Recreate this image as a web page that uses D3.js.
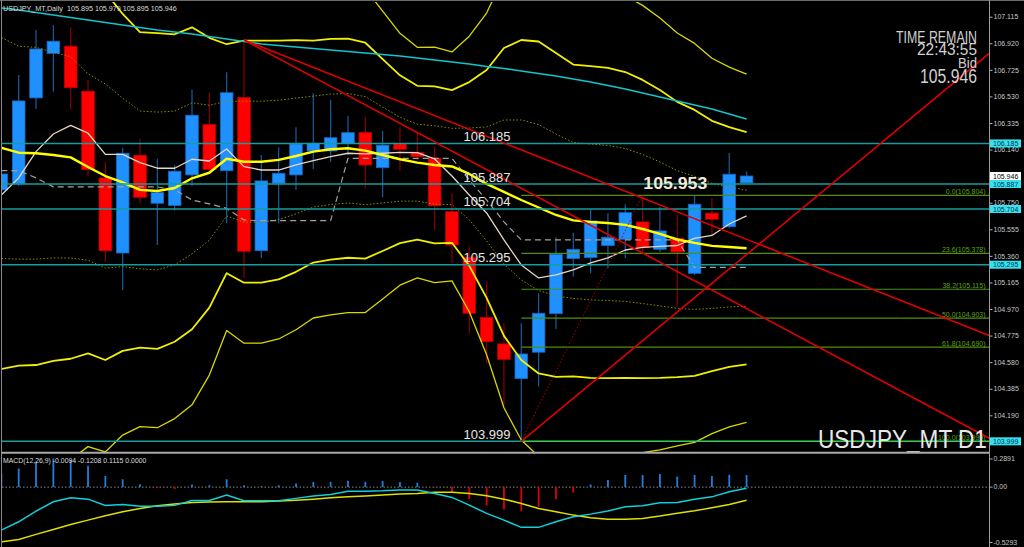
<!DOCTYPE html>
<html><head><meta charset="utf-8">
<script src="https://cdn.jsdelivr.net/npm/d3@7"></script>
<style>body{margin:0;background:#000;overflow:hidden}svg{display:block}</style>
</head><body>
<svg id="c" width="1024" height="547"></svg>
<script>
// ---------- DATA (candle index -1 .. 42, daily) ----------
const candleIdx = d3.range(-1, 43);
const open  = [105.844,105.888,106.519,106.846,106.898,106.568,105.932,105.381,106.098,105.746,105.730,105.954,106.323,105.985,106.521,105.398,105.893,105.954,106.130,106.130,106.186,106.264,106.007,106.181,106.120,106.076,105.684,105.350,104.907,104.714,104.459,104.653,104.936,105.340,105.347,105.435,105.482,105.609,105.408,105.489,105.232,105.673,105.574,105.895];
const high  = [106.005,106.687,107.017,107.054,107.037,106.651,106.051,106.154,106.218,106.073,106.027,106.577,106.557,106.707,106.944,106.100,106.157,106.304,106.553,106.504,106.389,106.381,106.276,106.304,106.264,106.161,105.819,105.428,105.171,104.870,104.866,105.086,105.497,105.530,105.704,105.673,105.739,105.804,105.721,105.660,105.807,105.783,106.115,105.979];
const low   = [105.807,105.873,106.438,106.565,106.438,105.941,105.315,105.110,105.746,105.440,105.693,105.875,105.976,105.599,105.198,105.345,105.599,105.844,105.998,106.051,106.100,105.856,105.790,105.983,106.064,105.550,105.306,104.792,104.572,104.266,103.999,104.400,104.824,105.207,105.232,105.269,105.342,105.389,105.389,104.987,105.220,105.513,105.565,105.895];
const close = [105.961,106.497,106.878,106.935,106.594,105.993,105.398,106.113,105.790,105.824,105.981,106.392,105.993,106.557,105.394,105.910,105.966,106.181,106.186,106.227,106.264,106.027,106.172,106.142,106.088,105.728,105.440,104.939,104.731,104.601,104.640,104.939,105.372,105.408,105.616,105.497,105.677,105.423,105.543,105.389,105.739,105.629,105.959,105.946];

const bbMid = [106.152,106.117,106.113,106.100,106.083,106.012,105.946,105.899,105.844,105.836,105.858,105.929,105.970,106.073,106.051,106.051,106.064,106.093,106.125,106.142,106.150,106.132,106.100,106.069,106.044,106.027,106.016,105.961,105.888,105.829,105.770,105.715,105.660,105.620,105.609,105.601,105.587,105.557,105.521,105.480,105.455,105.433,105.425,105.416];
const bbDev = [0.811,0.781,0.777,0.755,0.739,0.684,0.675,0.618,0.579,0.579,0.564,0.554,0.495,0.420,0.444,0.444,0.438,0.425,0.407,0.405,0.402,0.396,0.352,0.308,0.282,0.288,0.280,0.337,0.418,0.528,0.587,0.609,0.594,0.572,0.572,0.569,0.561,0.547,0.528,0.505,0.488,0.459,0.440,0.426];
const fastMA = [105.807,105.932,106.125,106.254,106.318,106.260,106.105,106.105,106.044,106.003,106.003,106.069,106.056,106.144,106.015,105.990,105.990,106.027,106.058,106.088,106.113,106.108,106.113,106.120,106.117,106.071,105.946,105.807,105.675,105.477,105.293,105.198,105.220,105.257,105.308,105.345,105.403,105.422,105.429,105.436,105.488,105.510,105.594,105.653];
const stepLine = [105.985,105.985,105.932,105.866,105.866,105.866,105.866,105.866,105.866,105.866,105.844,105.770,105.741,105.708,105.623,105.618,105.618,105.618,105.618,105.618,106.076,106.076,106.076,106.076,106.076,106.076,106.076,105.917,105.770,105.609,105.477,105.477,105.477,105.477,105.477,105.477,105.477,105.477,105.477,105.477,105.276,105.276,105.276,105.276];
const longMA = [107.179,107.164,107.146,107.127,107.109,107.091,107.072,107.054,107.036,107.017,107.003,106.988,106.970,106.951,106.933,106.915,106.904,106.893,106.882,106.871,106.860,106.849,106.838,106.827,106.812,106.797,106.783,106.768,106.750,106.735,106.717,106.698,106.680,106.658,106.636,106.610,106.585,106.555,106.526,106.497,106.467,106.438,106.401,106.364];

const macdHist = [0.125,0.171,0.231,0.262,0.247,0.195,0.101,0.073,0.027,-0.005,-0.018,0.025,0.018,0.073,0.018,0.009,0.018,0.034,0.046,0.048,0.058,0.048,0.055,0.046,0.039,-0.003,-0.052,-0.112,-0.167,-0.204,-0.217,-0.180,-0.112,-0.052,0.025,0.064,0.110,0.110,0.119,0.098,0.110,0.101,0.112,0.1115];
const macdLine = [-0.393,-0.317,-0.219,-0.134,-0.098,-0.110,-0.167,-0.158,-0.174,-0.174,-0.167,-0.122,-0.122,-0.073,-0.125,-0.125,-0.125,-0.103,-0.082,-0.067,-0.037,-0.037,-0.034,-0.027,-0.027,-0.058,-0.094,-0.165,-0.240,-0.302,-0.368,-0.368,-0.317,-0.271,-0.247,-0.219,-0.180,-0.171,-0.144,-0.140,-0.110,-0.089,-0.043,-0.0094];
const macdSignal = [-0.500,-0.478,-0.432,-0.387,-0.341,-0.302,-0.262,-0.226,-0.195,-0.171,-0.155,-0.140,-0.137,-0.134,-0.134,-0.134,-0.128,-0.119,-0.110,-0.098,-0.089,-0.082,-0.073,-0.064,-0.058,-0.048,-0.048,-0.058,-0.080,-0.110,-0.149,-0.195,-0.226,-0.256,-0.281,-0.293,-0.293,-0.286,-0.265,-0.240,-0.217,-0.189,-0.158,-0.1208];

const hLevels = [106.185,105.887,105.704,105.295,103.999];
const fibPct = ["0.0","23.6","38.2","50.0","61.8","100.0"];
const fibPrice = [105.804,105.378,105.115,104.903,104.690,103.999];
const fibFrom = 29;
const trendLines = [
  {i1:13,p1:106.944,i2:56,p2:104.775},
  {i1:13,p1:106.944,i2:56,p2:104.022},
  {i1:29,p1:103.999,i2:56,p2:106.846}
];
const fibDiag = {i1:29,p1:103.999,i2:36,p2:105.804};
const priceTicks = [107.115,106.920,106.725,106.530,106.335,106.140,105.750,105.555,105.360,105.165,104.970,104.775,104.580,104.385,104.190];
const macdTicks = [0.2891,0.00,-0.5293];
const macdTickText = ["0.2891","0.00","-0.5293"];
const bidPrice = 105.946;
const markPrice = 105.953, markIdx = 36.1;

// ---------- SCALES ----------
const FONT = "'Liberation Sans', Arial, sans-serif";
const svg = d3.select('#c');
const x = d3.scaleLinear().domain([0,56]).range([18.7,989.2]);
const y = d3.scaleLinear().domain([107.115,104.190]).range([16.7,415.3]);
const ym = d3.scaleLinear().domain([0.2891,-0.5293]).range([455.5,545]);
const AX = 989.5;

svg.append('rect').attr('width',1024).attr('height',547).attr('fill','#000');
const defs = svg.append('defs');
defs.append('clipPath').attr('id','cm').append('rect').attr('x',2).attr('y',2).attr('width',AX-2).attr('height',450);
defs.append('clipPath').attr('id','cd').append('rect').attr('x',2).attr('y',455).attr('width',AX-2).attr('height',92);

const main = svg.append('g').attr('clip-path','url(#cm)');
const sub = svg.append('g').attr('clip-path','url(#cd)');

// condensed text: scale horizontally to a target width
function condensed(g, tx, ty, str, size, width, anchor, fill, weight) {
  const t = g.append('text').attr('font-family',FONT).attr('font-size',size).attr('fill',fill)
    .attr('text-anchor',anchor).attr('font-weight',weight||'normal').text(str);
  const len = t.node().getComputedTextLength() || width;
  t.attr('transform',`translate(${tx},${ty}) scale(${width/len},1)`);
  return t;
}

// ---------- CANDLES ----------
const bw = 12.6;
candleIdx.forEach((k,i)=>{
  const bull = close[i] >= open[i];
  main.append('line').attr('x1',x(k)).attr('x2',x(k)).attr('y1',y(high[i])).attr('y2',y(low[i]))
    .attr('stroke', bull ? '#1b5c9e' : '#8a0000').attr('stroke-width',1.2);
  const yt = y(Math.max(open[i],close[i])), yb = y(Math.min(open[i],close[i]));
  main.append('rect').attr('x',x(k)-bw/2).attr('y',yt).attr('width',bw).attr('height',Math.max(1,yb-yt))
    .attr('fill', bull ? '#1e90ff' : '#ff0000').attr('stroke', bull ? '#1866c0' : '#c00000').attr('stroke-width',0.8);
});

// ---------- INDICATORS ----------
const line = arr => d3.line().x((d,i)=>x(candleIdx[i])).y(d=>y(d))(arr);
const band = (n) => bbMid.map((m,i)=>m + n*bbDev[i]);
const drawPath = (g, d, stroke, w, dash) => {
  const p = g.append('path').attr('d',d).attr('fill','none').attr('stroke',stroke).attr('stroke-width',w)
    .attr('stroke-linejoin','round');
  if (dash) p.attr('stroke-dasharray',dash);
  return p;
};
drawPath(main, line(band(1)), '#8c8c00', 1, '1.5,2');
drawPath(main, line(band(-1)), '#8c8c00', 1, '1.5,2');
drawPath(main, line(band(3)), '#d8d800', 1.3);
drawPath(main, line(band(-3)), '#d8d800', 1.3);
drawPath(main, line(band(2)), '#f0f000', 1.8);
drawPath(main, line(band(-2)), '#f0f000', 1.8);
drawPath(main, line(longMA), '#12c4cc', 1.6);
drawPath(main, line(stepLine), '#a8a098', 1.2, '6,4');
drawPath(main, line(fastMA), '#e6d6c6', 1.3);
drawPath(main, line(bbMid), '#ffff00', 2.4);

// ---------- OBJECTS ----------
hLevels.forEach(p=>{
  main.append('line').attr('x1',2).attr('x2',AX).attr('y1',y(p)).attr('y2',y(p))
    .attr('stroke','#159c9c').attr('stroke-width',1.5);
});
fibPrice.forEach((p,i)=>{
  main.append('line').attr('x1',x(fibFrom)).attr('x2',AX).attr('y1',y(p)).attr('y2',y(p))
    .attr('stroke', i===5 ? '#3ccc3c' : '#4f8f0c').attr('stroke-width',1.2);
  main.append('text').attr('x',AX-4).attr('y',y(p)-1.5).attr('text-anchor','end')
    .attr('font-family',FONT).attr('font-size',7).attr('fill','#5fa018')
    .text(fibPct[i] + '(' + p.toFixed(3) + ')');
});
drawPath(main, d3.line()([[x(fibDiag.i1),y(fibDiag.p1)],[x(fibDiag.i2),y(fibDiag.p2)]]), '#b00000', 1, '1.5,2');
trendLines.forEach(t=>{
  drawPath(main, d3.line()([[x(t.i1),y(t.p1)],[x(t.i2),y(t.p2)]]), '#e00000', 1.6);
});

// level labels on chart
hLevels.forEach(p=>{
  main.append('text').attr('x',463.5).attr('y',y(p)-2.5).attr('font-family',FONT).attr('font-size',13)
    .attr('fill','#e6e6e6').text(p.toFixed(3));
});
condensed(main, x(markIdx)-1, y(markPrice)+14, markPrice.toFixed(3), 16.5, 64, 'start', '#f2ead6', 'bold');

// top-left info
svg.append('text').attr('x',3).attr('y',11).attr('font-family',FONT).attr('font-size',7.2).attr('fill','#dcdcdc')
  .attr('xml:space','preserve')
  .text('USDJPY_MT,Daily  ' + [open[43],high[43],low[43],close[43]].map(v=>v.toFixed(3)).join(' '));

// top-right info
const info = [
  {t:'TIME REMAIN', y:43.3, s:17, w:81},
  {t:'22:43:55', y:55, s:16.5, w:60},
  {t:'Bid', y:68.3, s:15.5, w:19},
  {t:bidPrice.toFixed(3), y:82.5, s:19.5, w:57}
];
info.forEach(o=> condensed(svg, 977, o.y, o.t, o.s, o.w, 'end', '#d0d0d0'));
condensed(svg, 818, 447.5, 'USDJPY_MT D1', 25, 169, 'start', '#e8e8e8');

// ---------- MACD PANEL ----------
sub.append('line').attr('x1',2).attr('x2',AX).attr('y1',ym(0)).attr('y2',ym(0))
  .attr('stroke','#8a8a8a').attr('stroke-width',1).attr('stroke-dasharray','1.5,2');
candleIdx.forEach((k,i)=>{
  sub.append('line').attr('x1',x(k)).attr('x2',x(k)).attr('y1',ym(0)).attr('y2',ym(macdHist[i]))
    .attr('stroke', macdHist[i]>=0 ? '#1e7fe0' : '#e00000').attr('stroke-width',1.8);
});
sub.append('path').attr('d',d3.line().x((d,i)=>x(candleIdx[i])).y(d=>ym(d))(macdSignal))
  .attr('fill','none').attr('stroke','#e0e000').attr('stroke-width',1.5);
sub.append('path').attr('d',d3.line().x((d,i)=>x(candleIdx[i])).y(d=>ym(d))(macdLine))
  .attr('fill','none').attr('stroke','#10d0dc').attr('stroke-width',1.5);
svg.append('text').attr('x',3).attr('y',462.5).attr('font-family',FONT).attr('font-size',6.9).attr('fill','#dcdcdc')
  .text('MACD(12,26,9) ' + [macdLine[43],macdSignal[43],macdHist[43],0].map(v=>v.toFixed(4)).join(' '));

// ---------- FRAME & AXES ----------
svg.append('line').attr('x1',0).attr('x2',1024).attr('y1',0.5).attr('y2',0.5).attr('stroke','#6a6a6a');
svg.append('line').attr('x1',1.5).attr('x2',1.5).attr('y1',0).attr('y2',547).attr('stroke','#8a8a8a');
svg.append('line').attr('x1',1.5).attr('x2',AX).attr('y1',452.8).attr('y2',452.8).attr('stroke','#a8a8a8').attr('stroke-width',2);
svg.append('line').attr('x1',AX).attr('x2',AX).attr('y1',0).attr('y2',547).attr('stroke','#9a9a9a').attr('stroke-width',1);

const yAxis = d3.axisRight(y).tickValues(priceTicks).tickSize(3).tickPadding(1).tickFormat(d=>d.toFixed(3));
const ga = svg.append('g').attr('transform',`translate(${AX},0)`).call(yAxis);
ga.select('.domain').remove();
ga.selectAll('line').attr('stroke','#b0b0b0');
ga.selectAll('text').attr('font-family',FONT).attr('font-size',7).attr('fill','#c8c8c8');

const mAxis = d3.axisRight(ym).tickValues(macdTicks).tickSize(3).tickPadding(1).tickFormat((d,i)=>macdTickText[i]);
const gm = svg.append('g').attr('transform',`translate(${AX},0)`).call(mAxis);
gm.select('.domain').remove();
gm.selectAll('line').attr('stroke','#b0b0b0');
gm.selectAll('.tick').attr('transform',d=>`translate(0,${Math.min(542.5,Math.max(459,ym(d)))})`);
gm.selectAll('text').attr('font-family',FONT).attr('font-size',7).attr('fill','#c8c8c8');

// price boxes on axis
const box = (p, fill, txt) => {
  const g = svg.append('g').attr('transform',`translate(${AX+0.5},${y(p)})`);
  g.append('rect').attr('x',0).attr('y',-4).attr('width',31).attr('height',8).attr('fill',fill);
  g.append('text').attr('x',3).attr('y',2.6).attr('font-family',FONT).attr('font-size',7).attr('fill',txt).text(p.toFixed(3));
};
hLevels.forEach(p=>box(p,'#38e2f0','#00304a'));
box(bidPrice,'#ffffff','#000000');
</script>
</body></html>
